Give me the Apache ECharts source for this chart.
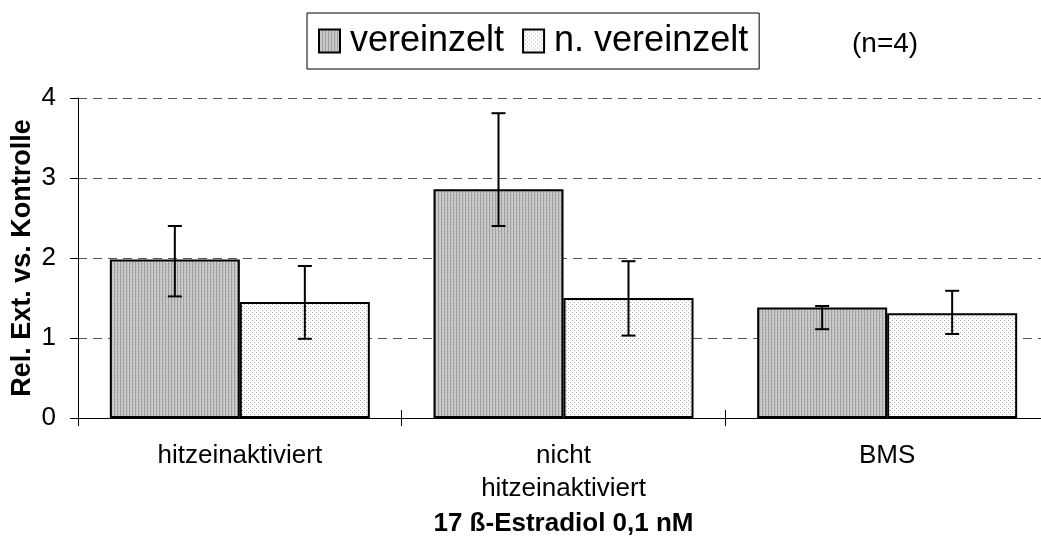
<!DOCTYPE html>
<html>
<head>
<meta charset="utf-8">
<script src="https://cdn.jsdelivr.net/npm/echarts@6/dist/echarts.min.js"></script>
<style>
html,body{margin:0;padding:0;background:#fff;}
#chart{width:1041px;height:536px;}
</style>
</head>
<body>
<div id="chart"></div>
<script>
// ---- data ----
const categories = ['hitzeinaktiviert', 'nicht\nhitzeinaktiviert', 'BMS'];
const seriesNames = ['vereinzelt', 'n. vereinzelt'];
const vereinzelt = [1.98, 2.86, 1.38];
const vereinzeltLow = [1.52, 2.40, 1.11];
const vereinzeltHigh = [2.40, 3.81, 1.40];
const nVereinzelt = [1.45, 1.50, 1.31];
const nVereinzeltLow = [0.99, 1.03, 1.05];
const nVereinzeltHigh = [1.90, 1.96, 1.59];
const yTicks = [0, 1, 2, 3, 4];
const xTitle = '17 ß-Estradiol 0,1 nM';
const yTitle = 'Rel. Ext. vs. Kontrolle';
const note = '(n=4)';

// ---- patterns ----
function darkPattern() {
  const c = document.createElement('canvas');
  c.width = 3; c.height = 3;
  const g = c.getContext('2d');
  g.fillStyle = '#c4c4c4'; g.fillRect(0, 0, 3, 3);
  g.fillStyle = '#a0a0a0'; g.fillRect(0, 0, 1, 3);
  g.fillStyle = '#dcdcdc'; g.fillRect(2, 1, 1, 1);
  return c;
}
function lightPattern() {
  const c = document.createElement('canvas');
  c.width = 4; c.height = 4;
  const g = c.getContext('2d');
  g.fillStyle = '#ffffff'; g.fillRect(0, 0, 4, 4);
  g.fillStyle = '#a8a8a8';
  g.fillRect(0, 0, 1, 1);
  g.fillRect(2, 2, 1, 1);
  return c;
}

const FONT = '"Liberation Sans", Arial, Helvetica, sans-serif';
const BAR_W = 130;

function errRender(offset) {
  return function (params, api) {
    const i = api.value(0);
    const x = api.coord([i, 0])[0] + offset;
    const yl = api.coord([i, api.value(1)])[1];
    const yh = api.coord([i, api.value(2)])[1];
    const cap = 7;
    const st = { stroke: '#000', lineWidth: 2 };
    return {
      type: 'group',
      children: [
        { type: 'line', shape: { x1: x, y1: yl, x2: x, y2: yh }, style: st },
        { type: 'line', shape: { x1: x - cap, y1: yl, x2: x + cap, y2: yl }, style: st },
        { type: 'line', shape: { x1: x - cap, y1: yh, x2: x + cap, y2: yh }, style: st }
      ]
    };
  };
}

const chart = echarts.init(document.getElementById('chart'), null, { renderer: 'canvas' });
const darkFill = { image: darkPattern(), repeat: 'repeat' };
const lightFill = { image: lightPattern(), repeat: 'repeat' };

chart.setOption({
  animation: false,
  backgroundColor: '#fff',
  textStyle: { fontFamily: FONT },
  grid: { left: 78, right: -8, top: 98, bottom: 118, outerBoundsMode: 'none', containLabel: false },
  legend: {
    data: seriesNames,
    left: 307, top: 13,
    orient: 'horizontal',
    icon: 'rect',
    borderColor: '#000', borderWidth: 1,
    padding: [10, 11],
    itemGap: 18,
    itemWidth: 21, itemHeight: 23,
    selectedMode: false,
    textStyle: { fontSize: 36, color: '#000', fontFamily: FONT, lineHeight: 36, padding: [0, 0, 0, 5] },
    itemStyle: { borderColor: '#000', borderWidth: 2 }
  },
  graphic: [{
    type: 'text',
    left: 852, top: 30,
    style: { text: note, fill: '#000', font: '28px ' + FONT }
  }],
  xAxis: [{
    type: 'category',
    data: categories,
    position: 'bottom',
    axisLine: { show: true, lineStyle: { color: '#000', width: 1 } },
    axisTick: { show: true, length: 8, inside: false, lineStyle: { color: '#000', width: 1 } },
    axisLabel: { color: '#000', fontSize: 26, lineHeight: 33, margin: 21, fontFamily: FONT, interval: 0 },
    name: xTitle,
    nameLocation: 'middle',
    nameGap: 93,
    nameMoveOverlap: false,
    nameTextStyle: { color: '#000', fontSize: 26, fontWeight: 'bold', lineHeight: 26, fontFamily: FONT }
  }, {
    type: 'category',
    data: categories,
    position: 'bottom',
    offset: 0,
    axisLine: { show: false },
    axisTick: { show: true, length: 8, inside: true, lineStyle: { color: '#000', width: 1 } },
    axisLabel: { show: false },
    splitLine: { show: false }
  }],
  yAxis: {
    type: 'value',
    min: yTicks[0], max: yTicks[yTicks.length - 1], interval: 1,
    axisLine: { show: true, lineStyle: { color: '#000', width: 1 } },
    axisTick: { show: true, length: 8, inside: false, lineStyle: { color: '#000', width: 1 } },
    axisLabel: { color: '#000', fontSize: 26, margin: 22, fontFamily: FONT },
    splitLine: { show: true, lineStyle: { color: '#555', width: 1, type: [9, 6] } },
    name: yTitle,
    nameLocation: 'middle',
    nameRotate: 90,
    nameGap: 42,
    nameMoveOverlap: false,
    nameTextStyle: { color: '#000', fontSize: 27, fontWeight: 'bold', lineHeight: 27, fontFamily: FONT }
  },
  series: [{
    name: seriesNames[0],
    type: 'bar',
    xAxisIndex: 0,
    data: vereinzelt,
    barWidth: BAR_W,
    barGap: '0%',
    itemStyle: { color: darkFill, borderColor: '#000', borderWidth: 2 },
    z: 2
  }, {
    name: seriesNames[1],
    type: 'bar',
    xAxisIndex: 0,
    data: nVereinzelt,
    barWidth: BAR_W,
    barGap: '0%',
    itemStyle: { color: lightFill, borderColor: '#000', borderWidth: 2 },
    z: 2
  }, {
    type: 'custom',
    xAxisIndex: 0,
    renderItem: errRender(-BAR_W / 2),
    data: categories.map((c, i) => [i, vereinzeltLow[i], vereinzeltHigh[i]]),
    encode: { x: 0, y: [1, 2] },
    z: 5
  }, {
    type: 'custom',
    xAxisIndex: 0,
    renderItem: errRender(BAR_W / 2),
    data: categories.map((c, i) => [i, nVereinzeltLow[i], nVereinzeltHigh[i]]),
    encode: { x: 0, y: [1, 2] },
    z: 5
  }]
});
</script>
</body>
</html>
